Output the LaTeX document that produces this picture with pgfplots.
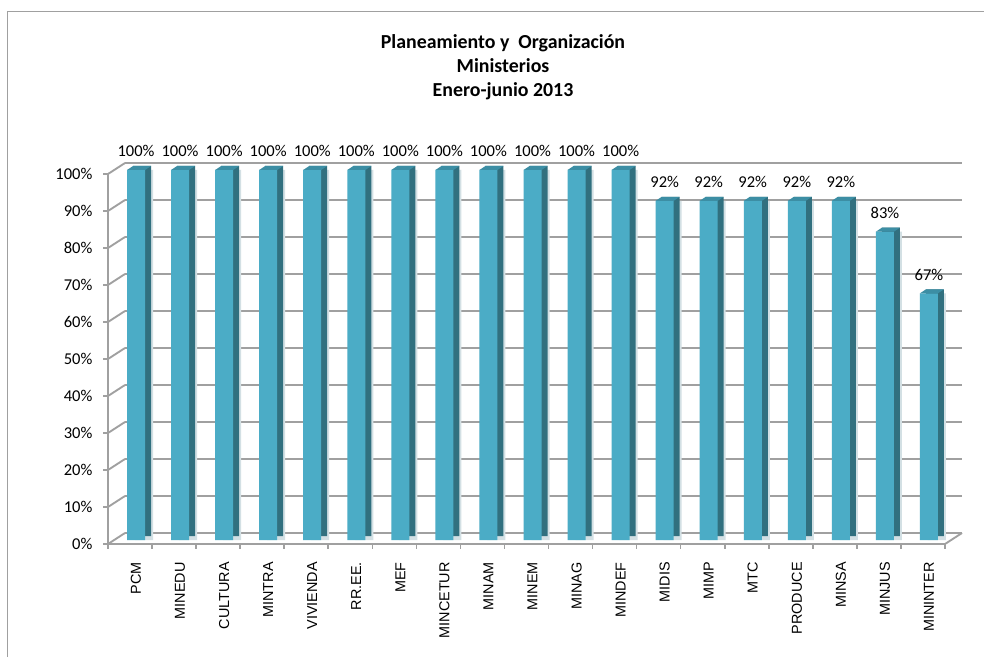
\documentclass[border=0pt]{standalone}
\usepackage{fontspec}
\setmainfont{Carlito}
\newfontfamily\arialf{Liberation Sans}
\usepackage{pgfplots}
\usepackage{pgfplotstable}
\pgfplotsset{compat=1.18}

\definecolor{barfront}{HTML}{4BACC6}
\definecolor{barside}{HTML}{31707F}
\definecolor{bartop}{HTML}{3C8EA4}
\definecolor{barshade}{HTML}{D3E0E4}
\definecolor{wallgray}{HTML}{A0A0A0}

% share of ministries per category (percent)
\pgfplotstableread{
idx val
0  100
1  100
2  100
3  100
4  100
5  100
6  100
7  100
8  100
9  100
10 100
11 100
12 91.67
13 91.67
14 91.67
15 91.67
16 91.67
17 83.33
18 66.67
}\datatable

% top face of a 3d bar
\pgfdeclareplotmark{topface}{%
  \pgfpathmoveto{\pgfpoint{-6.75pt}{0pt}}%
  \pgfpathlineto{\pgfpoint{6.75pt}{0pt}}%
  \pgfpathlineto{\pgfpoint{11.25pt}{3pt}}%
  \pgfpathlineto{\pgfpoint{-2.25pt}{3pt}}%
  \pgfpathclose
  \pgfusepathqfill}

\pgfplotsset{
  wall/.style={
    scale only axis,
    width=627.75pt, height=277.5pt,
    xmin=-0.5, xmax=18.5, ymin=0, ymax=100,
    anchor=south west,
  },
  bar3d/.style={ybar, bar width=13.5pt, bar shift=0pt, draw=none},
}

\begin{document}
\begin{tikzpicture}[x=1pt,y=1pt]
\useasboundingbox[fill=white] (-81,-84.75) rectangle (657,408);
\draw[wallgray, line width=1.1pt] (-75.2,-84.75) -- (-75.2,399.2) -- (657,399.2);

\node[align=center, font=\bfseries\fontsize{14.9}{17.8}\selectfont] at (296.25,357.5)
  {Planeamiento y\ \ Organización\\Ministerios\\Enero-junio 2013};

% back wall with the grid
\begin{axis}[wall, at={(12.75pt,8.25pt)},
  axis line style={draw=none},
  xtick=\empty, ytick={0,10,...,100}, yticklabels={},
  major tick length=0pt,
  ymajorgrids, grid style={wallgray, line width=2.1pt},
]
\end{axis}

% side wall
\foreach \k in {0,...,10}
  \draw[wallgray, line width=1.4pt] (0,\k*27.75) -- ++(12.75,8.25);
\draw[wallgray, line width=1.4pt] (627.75,0) -- ++(12.75,8.25);

% bars
\begin{axis}[wall, at={(4.5pt,3pt)},
  axis line style={draw=none},
  ytick=\empty,
  xtick={0,...,18},
  xticklabels={PCM,MINEDU,CULTURA,MINTRA,VIVIENDA,RR.EE.,MEF,MINCETUR,MINAM,MINEM,MINAG,MINDEF,MIDIS,MIMP,MTC,PRODUCE,MINSA,MINJUS,MININTER},
  major tick length=0pt,
  xticklabel style={rotate=90, anchor=east, inner sep=0pt,
    font=\arialf\fontsize{10.8}{13}\selectfont},
  xticklabel shift=16.5pt,
  /pgf/number format/assume math mode=true,
  clip=false,
]
\addplot[bar3d, fill=barshade, xshift=6pt] table[x=idx, y=val] {\datatable};
\addplot[bar3d, fill=barside, xshift=4.5pt, yshift=3pt] table[x=idx, y=val] {\datatable};
\addplot[only marks, mark=topface, mark options={fill=bartop, draw=none}]
  table[x=idx, y=val] {\datatable};
\addplot[bar3d, fill=barfront,
  point meta=y,
  nodes near coords={\pgfmathprintnumber[fixed, precision=0]{\pgfplotspointmeta}\%},
  nodes near coords style={anchor=base, inner sep=0pt, yshift=9.75pt,
    font=\fontsize{12.4}{14}\selectfont, text=black},
] table[x=idx, y=val] {\datatable};
\end{axis}

% front axis lines
\begin{axis}[wall, at={(0pt,0pt)},
  axis x line*=bottom, axis y line*=left,
  axis line style={-, wallgray, line width=1.5pt},
  xtick={-0.5,0.5,...,18.5}, xticklabels={},
  ytick={0,10,...,100},
  yticklabel={\pgfmathprintnumber{\tick}\%},
  /pgf/number format/assume math mode=true,
  tick align=outside, major tick length=3.5pt,
  tick style={wallgray, line width=1.2pt},
  yticklabel style={anchor=east, inner sep=0pt, xshift=-8pt,
    font=\fontsize{12.4}{14}\selectfont},
]
\end{axis}
\end{tikzpicture}
\end{document}
